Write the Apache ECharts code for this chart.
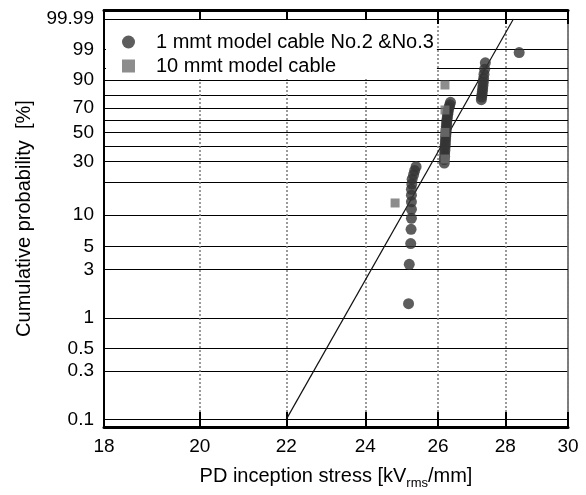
<!DOCTYPE html>
<html>
<head>
<meta charset="utf-8">
<script src="https://cdn.jsdelivr.net/npm/echarts@6/dist/echarts.min.js"></script>
<style>
  html, body { margin: 0; padding: 0; background: #fff; }
  #chart { width: 586px; height: 495px; }
</style>
</head>
<body>
<div id="chart"></div>
<script>
// Weibull probability plot of PD inception stress (log stress vs. ln(-ln(1-F)))

const seriesNames = ['1 mmt model cable No.2 &No.3', '10 mmt model cable'];

// 1 mmt model cables: PD inception stress [kV/mm]
const stress1mm = [
  25.17, 25.19, 25.23, 25.24, 25.25, 25.25, 25.25, 25.25, 25.25, 25.26, 25.27, 25.31, 25.34, 25.38,
  26.18, 26.18, 26.19, 26.19, 26.20, 26.20, 26.21, 26.21, 26.22, 26.22, 26.23, 26.23,
  26.24, 26.24, 26.25, 26.25, 26.26, 26.27, 26.28, 26.29, 26.30, 26.32, 26.34, 26.36,
  27.27, 27.28, 27.29, 27.30, 27.31, 27.32, 27.33, 27.34, 27.35, 27.37, 27.39,
  28.43
];
// 1 mmt model cables: cumulative probability [%]
const prob1mm = [
  1.39, 3.37, 5.36, 7.34, 9.33, 11.31, 13.29, 15.28, 17.26, 19.25, 21.23, 23.21, 25.20, 27.18,
  29.17, 31.15, 33.13, 35.12, 37.10, 39.09, 41.07, 43.06, 45.04, 47.02, 49.01, 50.99,
  52.98, 54.96, 56.94, 58.93, 60.91, 62.90, 64.88, 66.87, 68.85, 70.83, 72.82, 74.80,
  76.79, 78.77, 80.75, 82.74, 84.72, 86.71, 88.69, 90.67, 92.66, 94.64, 96.63,
  98.61
];

// 10 mmt model cable
const stress10mm = [24.80, 26.20, 26.20, 26.20, 26.20];
const prob10mm = [12.96, 31.48, 50.00, 68.52, 87.04];

// fitted Weibull line
const fitStress = [22.0, 28.25];
const fitProb = [0.1, 99.99];

// axis ticks
const xTicks = [18, 20, 22, 24, 26, 28, 30];
const yLabels = [0.1, 0.3, 0.5, 1, 3, 5, 10, 30, 50, 70, 90, 99, 99.99];
const yGrid = [0.1, 0.3, 0.5, 1, 3, 5, 10, 20, 30, 40, 50, 60, 70, 80, 90, 95, 99, 99.99];

// Weibull scale transforms
const W = p => Math.log(-Math.log(1 - p / 100));
const L = v => Math.log(v);

const pairs = (xs, ps) => xs.map((x, i) => [L(x), W(ps[i])]);

const yLabelPos = yLabels.map(W);
const yFormatter = v => {
  let best = 0;
  yLabelPos.forEach((p, i) => { if (Math.abs(p - v) < Math.abs(yLabelPos[best] - v)) best = i; });
  return String(yLabels[best]);
};

const font = 'Arial, "Liberation Sans", sans-serif';
const chart = echarts.init(document.getElementById('chart'), null, { renderer: 'canvas' });

chart.setOption({
  animation: false,
  backgroundColor: '#fff',
  textStyle: { fontFamily: font, color: '#000' },
  grid: {
    left: 104, right: 18, top: 10, bottom: 65,
    show: true, borderColor: '#000', borderWidth: 1, backgroundColor: 'transparent'
  },
  legend: {
    data: [{ name: seriesNames[0], icon: 'circle' }, { name: seriesNames[1], icon: 'rect' }],
    orient: 'vertical',
    left: 106, top: 20,
    padding: [12, 3, 3, 16],
    itemGap: 4, itemWidth: 13, itemHeight: 13,
    backgroundColor: '#fff',
    selectedMode: false,
    textStyle: { fontSize: 20, color: '#000', fontFamily: font, padding: [0, 0, 0, 16] }
  },
  xAxis: [
    {
      type: 'value', position: 'bottom',
      min: L(18), max: L(30),
      axisLine: { show: true, onZero: false, lineStyle: { color: '#000', width: 3 } },
      axisTick: { show: true, inside: true, length: 15, customValues: xTicks.map(L), lineStyle: { color: '#000', width: 2 } },
      axisLabel: {
        customValues: xTicks.map(L),
        formatter: v => String(Math.round(Math.exp(v))),
        fontSize: 19, color: '#000', margin: 10, fontFamily: font
      },
      splitLine: { show: true, lineStyle: { color: '#7a7a7a', width: 1.5, type: [2, 2] } },
      name: '{a|PD inception stress [kV}{b|rms}{a|/mm]}',
      nameLocation: 'middle', nameGap: 35,
      nameTextStyle: {
        rich: {
          a: { fontSize: 20, color: '#000', fontFamily: font, lineHeight: 28, verticalAlign: 'middle' },
          b: { fontSize: 13, color: '#000', fontFamily: font, verticalAlign: 'bottom' }
        }
      }
    },
    {
      type: 'value', position: 'top',
      min: L(18), max: L(30),
      axisLine: { show: true, onZero: false, lineStyle: { color: '#000', width: 3 } },
      axisTick: { show: true, inside: true, length: 14, customValues: xTicks.map(L), lineStyle: { color: '#000', width: 2 } },
      axisLabel: { show: false },
      splitLine: { show: false }
    }
  ],
  yAxis: {
    type: 'value',
    min: -7.081, max: 2.424,
    axisLine: { show: true, onZero: false, lineStyle: { color: '#000', width: 2 } },
    axisTick: { show: true, inside: true, length: 3, customValues: yGrid.map(W), lineStyle: { color: '#000', width: 1 } },
    axisLabel: { customValues: yLabelPos, formatter: yFormatter, fontSize: 19, color: '#000', margin: 10, fontFamily: font },
    splitLine: { show: true, lineStyle: { color: '#000', width: 1 } },
    name: 'Cumulative probability  [%]',
    nameLocation: 'middle', nameRotate: 90, nameGap: 70,
    nameTextStyle: { fontSize: 20, color: '#000', fontFamily: font }
  },
  series: [
    {
      type: 'line',
      data: pairs(fitStress, fitProb),
      symbol: 'none',
      silent: true,
      lineStyle: { color: '#111', width: 1.2 },
      z: 2
    },
    {
      name: seriesNames[0],
      type: 'scatter',
      data: pairs(stress1mm, prob1mm),
      symbol: 'circle', symbolSize: 11,
      itemStyle: { color: '#353535' },
      z: 3
    },
    {
      name: seriesNames[1],
      type: 'scatter',
      data: pairs(stress10mm, prob10mm),
      symbol: 'rect', symbolSize: 9,
      itemStyle: { color: '#707070' },
      z: 4
    }
  ]
});
</script>
</body>
</html>
